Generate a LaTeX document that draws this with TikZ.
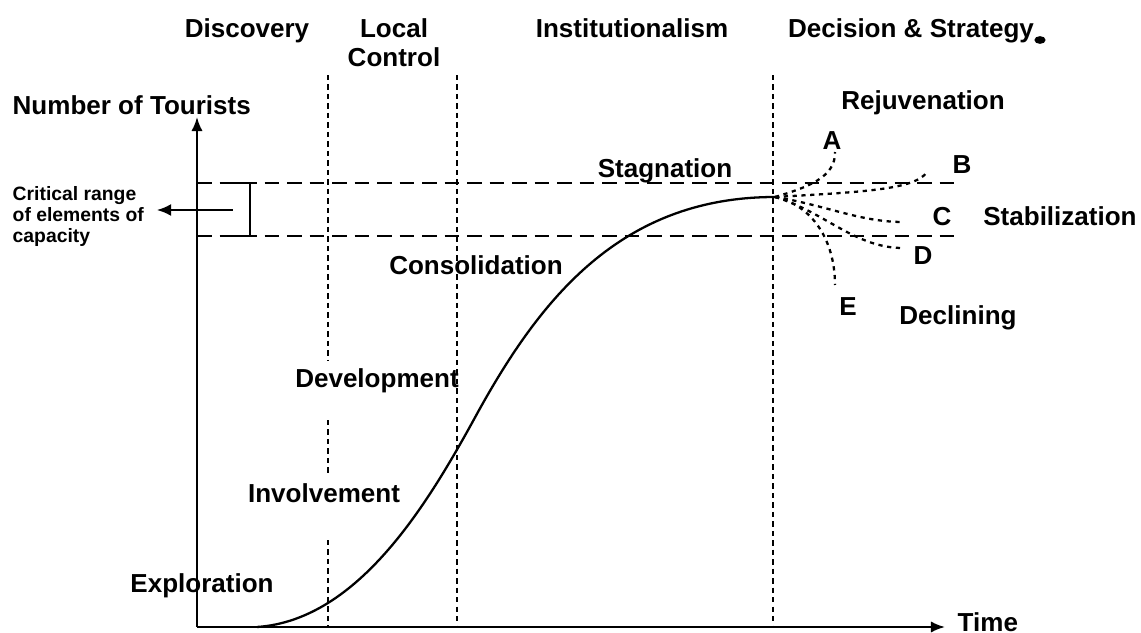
\documentclass[tikz,border=0pt]{standalone}
\usepackage{fontspec}
\setmainfont{Liberation Sans}
\usetikzlibrary{arrows.meta}
\begin{document}
\begin{tikzpicture}[x=0.01cm,y=-0.01cm,
  lbl/.style={font=\fontsize{7.4}{8.8}\selectfont\bfseries, inner sep=0pt, anchor=base},
  small/.style={font=\fontsize{5.5}{6}\selectfont\bfseries, inner sep=0pt, align=left, anchor=north west},
  axisline/.style={line width=0.6pt, -{Latex[length=4pt,width=3.2pt]}},
  phaseline/.style={line width=0.75pt, dash pattern=on 1.5pt off 1.2pt},
  rangeline/.style={line width=0.55pt, dash pattern=on 4.2pt off 2.2pt},
  branchline/.style={line width=0.65pt, dash pattern=on 1.2pt off 1.3pt},
  curveline/.style={line width=0.65pt}]
\useasboundingbox (0,0) rectangle (1141,633);

% axes
\coordinate (O) at (197,627);
\coordinate (ytop) at (197,117);
\coordinate (xend) at (945,627);
\draw[axisline] (O) -- (ytop);
\draw[axisline] (O) -- (xend);

% phase separators
\coordinate (p1a) at (328,75);  \coordinate (p1b) at (328,360);
\coordinate (p1c) at (328,420); \coordinate (p1d) at (328,475);
\coordinate (p1e) at (328,540); \coordinate (p1f) at (328,627);
\coordinate (p2a) at (457,75);  \coordinate (p2b) at (457,627);
\coordinate (p3a) at (773,75);  \coordinate (p3b) at (773,627);
\draw[phaseline] (p1a) -- (p1b) (p1c) -- (p1d) (p1e) -- (p1f);
\draw[phaseline] (p2a) -- (p2b);
\draw[phaseline] (p3a) -- (p3b);

% critical capacity range
\coordinate (r1a) at (197,183); \coordinate (r1b) at (957,183);
\coordinate (r2a) at (197,236); \coordinate (r2b) at (957,236);
\draw[rangeline] (r1a) -- (r1b);
\draw[rangeline] (r2a) -- (r2b);
\coordinate (bt) at (229,183); \coordinate (btr) at (250,183);
\coordinate (bbr) at (250,236); \coordinate (bb) at (229,236);
\draw[line width=0.8pt] (bt) -- (btr) -- (bbr) -- (bb);
\coordinate (arrfrom) at (233,210);
\coordinate (arrto) at (157,210);
\draw[line width=0.55pt, -{Latex[length=4pt,width=3.4pt]}] (arrfrom) -- (arrto);

% life-cycle curve
\coordinate (c0) at (257,627);
\coordinate (cm) at (478,412);
\coordinate (split) at (775,197);
\draw[curveline] (c0) .. controls (360,620) and (430,500) .. (cm)
  .. controls (540,300) and (620,197) .. (split);

% alternative futures
\coordinate (ea) at (835,152);
\coordinate (eb) at (927,172);
\coordinate (ec) at (903,222);
\coordinate (ed) at (903,248);
\coordinate (ee) at (835,285);
\draw[branchline] (split) .. controls (805,188) and (836,178) .. (ea);
\draw[branchline] (split) .. controls (860,192) and (915,190) .. (eb);
\draw[branchline] (split) .. controls (825,205) and (860,222) .. (ec);
\draw[branchline] (split) .. controls (825,212) and (855,248) .. (ed);
\draw[branchline] (split) .. controls (812,205) and (835,240) .. (ee);

% phase headings
\node[lbl] (discovery) at (247,37) {Discovery};
\node[lbl] (local) at (394,37) {Local};
\node[lbl] (control) at (394,66) {Control};
\node[lbl] (inst) at (632,37) {Institutionalism};
\node[lbl] (decision) at (911,37) {Decision \& Strategy};
\fill (1040,40) ellipse [x radius=1.6pt, y radius=1.1pt];

% axis titles
\node[lbl, anchor=base west] (ylabel) at (12,114) {Number of Tourists};
\node[lbl, anchor=base west] (xlabel) at (957,631) {Time};
\node[small] (crit) at (12,186) {Critical range\\of elements of\\capacity};

% stage labels
\node[lbl] (explor) at (202,592) {Exploration};
\node[lbl] (invol) at (324,502) {Involvement};
\node[lbl] (devel) at (377,387) {Development};
\node[lbl] (consol) at (476,274) {Consolidation};
\node[lbl] (stag) at (665,177) {Stagnation};
\node[lbl] (rejuv) at (923,109) {Rejuvenation};
\node[lbl] (stab) at (1060,225) {Stabilization};
\node[lbl] (decl) at (958,324) {Declining};

% branch letters
\node[lbl] (la) at (832,149) {A};
\node[lbl] (lb) at (962,173) {B};
\node[lbl] (lc) at (942,225) {C};
\node[lbl] (ld) at (923,264) {D};
\node[lbl] (le) at (848,315) {E};
\end{tikzpicture}
\end{document}
